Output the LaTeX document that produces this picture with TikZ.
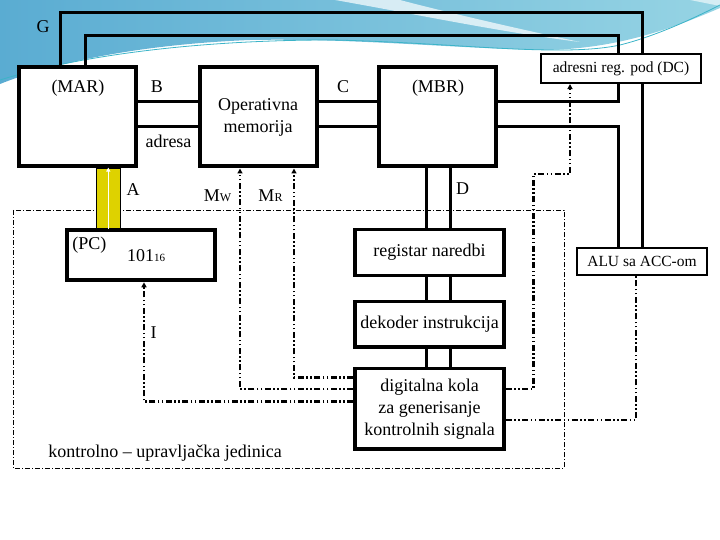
\documentclass[tikz,border=0pt]{standalone}
\usepackage{fontspec}
\setmainfont{Liberation Serif}
\usetikzlibrary{arrows.meta, calc}
\definecolor{swoosh}{RGB}{90,172,210}
\definecolor{swooshlight}{RGB}{150,212,228}
\definecolor{swooshline}{RGB}{60,180,200}
\definecolor{busyellow}{RGB}{222,210,0}

\begin{document}
\begin{tikzpicture}[x=1pt, y=-1pt,
  every node/.style={font=\fontsize{18}{22}\selectfont, inner sep=0pt},
  bigbox/.style={draw, line width=4pt, fill=white, minimum width=117pt, minimum height=99pt},
  unitbox/.style={draw, line width=3.5pt, fill=white, minimum width=149pt},
  smallbox/.style={draw, line width=2pt, fill=white, font=\fontsize{15.5}{18}\selectfont},
  bus/.style={line width=3pt},
  ctrl/.style={line width=2.5pt, dash pattern=on 6pt off 2.5pt on 1.5pt off 2.5pt on 1.5pt off 2.5pt},
  tip/.style={-{Triangle[length=5pt, width=5pt]}},
  frame/.style={line width=0.9pt, dash pattern=on 5pt off 2pt on 1pt off 2pt}]
  \useasboundingbox (0,0) rectangle (720,540);

  % Background
  \shade[left color=swoosh, right color=swooshlight] (0,0) -- (720,0) -- (720,8)
    .. controls (680,25) and (620,50) .. (540,50)
    .. controls (450,48) and (350,38) .. (250,40)
    .. controls (150,44) and (60,60) .. (0,84) -- cycle;
  \fill[white, opacity=0.7] (335,0) .. controls (420,15) and (500,32) .. (580,42)
    .. controls (500,25) and (430,8) .. (400,0) -- cycle;
  \fill[white, opacity=0.6] (690,0) -- (720,0) -- (720,6) -- cycle;
  \draw[swooshline, line width=0.8pt] (0,80) .. controls (80,55) and (200,40) .. (330,40)
    .. controls (450,42) and (560,58) .. (620,45) .. controls (660,35) and (700,15) .. (720,5);

  % Control unit frame
  \draw[frame] (13,210) rectangle (564,468);

  % Registers and units
  \node[bigbox] (mar) at (77.5,117) {};
  \node[bigbox, align=center] (mem) at (258,117) {Operativna\\memorija};
  \node[bigbox] (mbr) at (437.5,117) {};
  \node[bigbox, minimum width=148pt, minimum height=50pt] (pc) at (141,255.3) {};
  \node[unitbox, minimum height=46pt] (reg) at (429.5,252.5) {registar naredbi};
  \node[unitbox, minimum height=45.5pt] (dek) at (429.5,324) {dekoder instrukcija};
  \node[unitbox, minimum height=80.5pt, align=center] (dig) at (429.5,408.7) {digitalna kola\\za generisanje\\kontrolnih signala};
  \node[smallbox, minimum width=160pt, minimum height=28.7pt] (adr) at (621,68.7) {adresni reg. pod (DC)};
  \node[smallbox, minimum width=130pt, minimum height=27.3pt] (alu) at (642,261.3) {ALU sa ACC-om};

  % Bus rails
  \coordinate (yhi) at (0,102);
  \coordinate (ylo) at (0,127);
  \coordinate (gx) at (60,0);
  \coordinate (hx) at (85,0);
  \coordinate (gtop) at (642,12.3);
  \coordinate (htop) at (618,35.7);
  \coordinate (dl) at (426,0);
  \coordinate (dr) at (450,0);

  \draw[bus] (mar.north -| gx) |- (gtop) -- (adr.north -| gtop);
  \draw[bus] (adr.south -| gtop) -- (alu.north -| gtop);
  \draw[bus] (mar.north -| hx) |- (htop) -- (adr.north -| htop);
  \draw[bus] (mbr.east |- yhi) -| (adr.south -| htop);
  \draw[bus] (mbr.east |- ylo) -| (alu.north -| htop);
  \foreach \y in {yhi, ylo} {
    \draw[bus] (mar.east |- \y) -- (mem.west |- \y);
    \draw[bus] (mem.east |- \y) -- (mbr.west |- \y);
  }
  \foreach \x in {dl, dr} {
    \draw[bus] (mbr.south -| \x) -- (reg.north -| \x);
    \draw[bus] (reg.south -| \x) -- (dek.north -| \x);
    \draw[bus] (dek.south -| \x) -- (dig.north -| \x);
  }

  % PC to MAR
  \node[draw, line width=1.4pt, fill=busyellow, minimum width=24pt, minimum height=60pt] (abus) at (108.3,198.3) {};
  \draw[white, line width=1.2pt, -{Triangle[length=4pt, width=4pt]}] (abus.south) -- (abus.north);

  % Control signals
  \coordinate (ci) at (144,401.7);
  \coordinate (cw) at (240,389);
  \coordinate (cr) at (294,377.7);
  \coordinate (ca1) at (533.3,174);
  \coordinate (ca2) at (570,174);
  \coordinate (cl) at (636,420);

  \draw[ctrl, tip] (dig.west |- ci) -| (pc.south -| ci);
  \draw[ctrl, tip] (dig.west |- cw) -| (mem.south -| cw);
  \draw[ctrl, tip] (dig.west |- cr) -| (mem.south -| cr);
  \draw[ctrl, tip] (dig.east |- cw) -| (ca1) -- (ca2) -- (adr.south -| ca2);
  \draw[ctrl] (dig.east |- cl) -| (alu.south -| cl);

  % Labels
  \node (glbl) at (43,27) {G};
  \node (marlbl) at (78,88) {(MAR)};
  \node (blbl) at (157,87) {B};
  \node (adrlbl) at (168.5,141) {adresa};
  \node (clbl) at (343,87) {C};
  \node (mbrlbl) at (438,88) {(MBR)};
  \node (albl) at (133,190) {A};
  \node (mwlbl) at (217.5,196) {M{\fontsize{12}{12}\selectfont W}};
  \node (mrlbl) at (270.5,196) {M{\fontsize{12}{12}\selectfont R}};
  \node (dlbl) at (462.7,189) {D};
  \node (pclbl) at (89.3,245) {(PC)};
  \node (pcval) at (146,256) {101{\fontsize{11}{11}\selectfont 16}};
  \node (ilbl) at (153.7,333) {I};
  \node (kulbl) at (165,452.7) {kontrolno – upravljačka jedinica};
\end{tikzpicture}
\end{document}
